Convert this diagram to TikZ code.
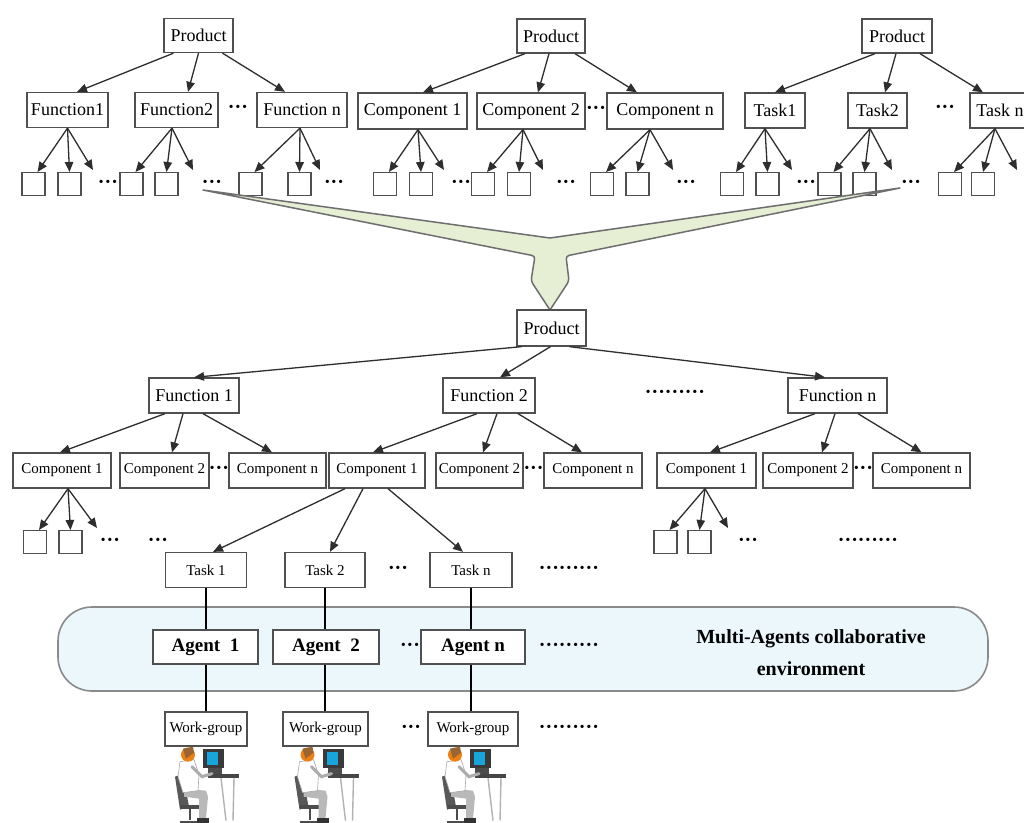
\documentclass[tikz,border=0pt]{standalone}
\usepackage{fontspec}
\setmainfont{Liberation Serif}
\usetikzlibrary{arrows.meta,calc}

\definecolor{boxgray}{HTML}{505050}
\definecolor{arrgray}{HTML}{2E2E2E}
\definecolor{funfill}{HTML}{E6EED4}
\definecolor{funline}{HTML}{6E6E6E}
\definecolor{bandfill}{HTML}{ECF7FB}
\definecolor{bandline}{HTML}{8A8A8A}

\newcommand{\fsz}[1]{\fontsize{#1}{#1}\selectfont}

% three arrows from a parent box to two leaf boxes and one open end
% #1 parent, #2 leaf top y, #3/#4 leaf centres x, #5 open arrow end x, #6 origin shift
\newcommand{\leaftree}[6]{%
  \coordinate (#1-o) at ([xshift=#6pt]#1.south);
  \node[leaf, anchor=north] (#1-l1) at (#3,#2) {};
  \node[leaf, anchor=north] (#1-l2) at (#4,#2) {};
  \coordinate (#1-l3) at (#5,#2-2);
  \draw[arr] (#1-o) -- ([xshift=4pt]#1-l1.north);
  \draw[arr] (#1-o) -- (#1-l2.north);
  \draw[arr] (#1-o) -- (#1-l3);
}

% seated worker at a computer, hanging below a work-group box
\newcommand{\worker}[1]{%
  \begin{scope}[shift={(#1.south)}]
    % desk legs and top
    \draw[gray!60, line width=1.4pt] (15,31) -- (20,74) (28,31) -- (27,74);
    \fill[gray!55!black] (2,27) rectangle (33,31);
    % monitor
    \fill[gray!45!black] (-3,2) rectangle (18,21);
    \fill[cyan!80!teal] (1,5) rectangle (12,18);
    \fill[gray!60!black] (2,21) rectangle (16,27);
    % chair
    \fill[gray!70!black] (-31,30) -- (-23,27) -- (-17,60) -- (-26,63) -- cycle;
    \fill[gray!60!black] (-26,58) rectangle (-6,62);
    \draw[gray!60!black, line width=2pt] (-16,62) -- (-16,73) (-26,75) -- (-6,75);
    % legs
    \fill[gray!55] (-22,42) -- (0,44) -- (2,50) -- (0,72) -- (-7,72) -- (-7,52) -- (-22,50) -- cycle;
    \fill[black!80] (-9,71) rectangle (3,76);
    % torso
    \filldraw[draw=gray!70, fill=white, line width=0.6pt]
      (-26,15) -- (-12,13) -- (-7,28) -- (-8,44) -- (-23,46) -- (-28,30) -- cycle;
    % arm to the keyboard
    \draw[gray!65, line width=3pt, line cap=round] (-14,20) -- (-4,30) -- (6,27);
    % head and hair
    \fill[orange!70!brown] (-18,8) circle (7pt);
    \fill[brown!80!black] (-23,2) -- (-13,0) -- (-12,6) -- (-20,12) -- cycle;
  \end{scope}
}

\tikzset{
  bx/.style={draw=boxgray, line width=1.3pt, fill=white, inner sep=0pt,
             minimum height=35pt, text=black},
  leaf/.style={draw=boxgray, line width=1.2pt, fill=white, minimum size=23pt, inner sep=0pt},
  arr/.style={draw=arrgray, line width=1.3pt, -{Triangle[length=10pt,width=8.5pt]}},
  link/.style={draw=black, line width=1.5pt},
  dots/.style={inner sep=0pt, font=\fsz{20}\bfseries},
  ftop/.style={font=\fsz{18}},
  fmid/.style={font=\fsz{18}},
  fcomp/.style={font=\fsz{15}},
  fsmall/.style={font=\fsz{15}},
}

\begin{document}
\begin{tikzpicture}[x=1pt, y=-1pt]
\clip (0,0) rectangle (1024,822);
\fill[white] (0,0) rectangle (1024,822);

% ---------- three source hierarchies ----------
\node[bx, ftop, minimum width=69pt, minimum height=34pt] (P1) at (198.5,35.5) {Product};
\node[bx, ftop, minimum width=81pt] (F1) at (67.5,110) {Function1};
\node[bx, ftop, minimum width=83pt] (F2) at (176.5,110) {Function2};
\node[bx, ftop, minimum width=90pt] (Fn) at (302,110) {Function n};
\node[dots] (dF) at (238,109) {···};

\node[bx, ftop, minimum width=68pt, minimum height=34pt] (P2) at (551,36) {Product};
\node[bx, ftop, minimum width=109pt, minimum height=36pt] (Cp1) at (412.5,111) {Component 1};
\node[bx, ftop, minimum width=108pt, minimum height=36pt] (Cp2) at (531,111) {Component 2};
\node[bx, ftop, minimum width=116pt, minimum height=36pt] (Cpn) at (665,111) {Component n};
\node[dots] (dC) at (596,110) {···};

\node[bx, ftop, minimum width=70pt, minimum height=34pt] (P3) at (897,36) {Product};
\node[bx, ftop, minimum width=60pt] (T1) at (775,110.5) {Task1};
\node[bx, ftop, minimum width=59pt] (T2) at (877.5,110.5) {Task2};
\node[bx, ftop, minimum width=60pt] (Tn) at (1000,110.5) {Task n};
\node[dots] (dT) at (945,109) {···};

\draw[arr] ([xshift=-25pt]P1.south) -- ([xshift=9.5pt]F1.north);
\draw[arr] ([xshift=0pt]P1.south) -- ([xshift=11.5pt]F2.north);
\draw[arr] ([xshift=24pt]P1.south) -- ([xshift=-17pt]Fn.north);
\draw[arr] ([xshift=-26pt]P2.south) -- ([xshift=10.5pt]Cp1.north);
\draw[arr] ([xshift=-2pt]P2.south) -- ([xshift=7pt]Cp2.north);
\draw[arr] ([xshift=24pt]P2.south) -- ([xshift=-28pt]Cpn.north);
\draw[arr] ([xshift=-22pt]P3.south) -- (T1.north);
\draw[arr] ([xshift=-1pt]P3.south) -- ([xshift=7.5pt]T2.north);
\draw[arr] ([xshift=23pt]P3.south) -- ([xshift=-17pt]Tn.north);

\leaftree{F1}{172}{33.5}{69.5}{93}{0}
\leaftree{F2}{172}{131.5}{166.5}{193}{-4.5}
\leaftree{Fn}{172}{250.5}{299.5}{320}{-2}
\leaftree{Cp1}{172}{385}{421}{444}{5.5}
\leaftree{Cp2}{172}{483}{519}{543}{-8}
\leaftree{Cpn}{172}{602}{637.5}{673}{-15}
\leaftree{T1}{172}{732}{767.5}{792}{-10}
\leaftree{T2}{172}{829.5}{864.5}{892}{-7.5}
\leaftree{Tn}{172}{950}{983}{1017}{-5}

\node[dots] (d1) at (108,184) {···};
\node[dots] (d2) at (212,184) {···};
\node[dots] (d3) at (334,184) {···};
\node[dots] (d4) at (461,184) {···};
\node[dots] (d5) at (566,184) {···};
\node[dots] (d6) at (686,184) {···};
\node[dots] (d7) at (806,184) {···};
\node[dots] (d8) at (911,184) {···};

% ---------- merging funnel ----------
\filldraw[fill=funfill, draw=funline, line width=1.5pt, line join=round]
  (203,190) -- (550,238) -- (900,188)
  [rounded corners=3pt] -- (566,256) -- (569,281)
  [sharp corners] -- (550,310)
  [rounded corners=3pt] -- (531,281) -- (535,256)
  [sharp corners] -- cycle;

% ---------- integrated hierarchy ----------
\node[bx, font=\fsz{18}, minimum width=69pt, minimum height=36pt] (P4) at (551.5,328) {Product};
\node[bx, fmid, minimum width=90pt] (G1) at (194,395.5) {Function 1};
\node[bx, fmid, minimum width=92pt] (G2) at (489,395.5) {Function 2};
\node[bx, fmid, minimum width=99pt] (Gn) at (837.5,395.5) {Function n};
\node[dots] (dG) at (675,394) {·········};

\draw[arr] ([xshift=-30pt]P4.south) -- (G1.north);
\draw[arr] ([xshift=-1pt]P4.south) -- ([xshift=11pt]G2.north);
\draw[arr] ([xshift=18pt]P4.south) -- ([xshift=-12.5pt]Gn.north);

\node[bx, fcomp, minimum width=98pt] (A1) at (62,470.5) {Component 1};
\node[bx, fcomp, minimum width=89pt] (A2) at (164.5,470.5) {Component 2};
\node[bx, fcomp, minimum width=97pt] (An) at (277.5,470.5) {Component n};
\node[bx, fcomp, minimum width=96pt] (B1) at (377,470.5) {Component 1};
\node[bx, fcomp, minimum width=87pt] (B2) at (479.5,470.5) {Component 2};
\node[bx, fcomp, minimum width=98pt] (Bn) at (593,470.5) {Component n};
\node[bx, fcomp, minimum width=99pt] (D1) at (706.5,470.5) {Component 1};
\node[bx, fcomp, minimum width=90pt] (D2) at (808,470.5) {Component 2};
\node[bx, fcomp, minimum width=97pt] (Dn) at (921.5,470.5) {Component n};
\node[dots] (dA) at (219,470) {···};
\node[dots] (dB) at (533.5,470) {···};
\node[dots] (dD) at (863,470) {···};

\draw[arr] ([xshift=-29pt]G1.south) -- ([xshift=-2pt]A1.north);
\draw[arr] ([xshift=-11pt]G1.south) -- ([xshift=7.5pt]A2.north);
\draw[arr] ([xshift=9pt]G1.south) -- ([xshift=-5.5pt]An.north);
\draw[arr] ([xshift=-12pt]G2.south) -- ([xshift=-4pt]B1.north);
\draw[arr] ([xshift=8pt]G2.south) -- ([xshift=3.5pt]B2.north);
\draw[arr] ([xshift=29pt]G2.south) -- ([xshift=-11pt]Bn.north);
\draw[arr] ([xshift=-22.5pt]Gn.south) -- ([xshift=3.5pt]D1.north);
\draw[arr] ([xshift=-2.5pt]Gn.south) -- ([xshift=14pt]D2.north);
\draw[arr] ([xshift=20.5pt]Gn.south) -- (Dn.north);

\leaftree{A1}{530}{35}{70.5}{97}{6}
\leaftree{D1}{530}{665.5}{699.5}{728}{-1.5}
\node[dots] (e1) at (110,542) {···};
\node[dots] (e2) at (158,542) {···};
\node[dots] (e3) at (748,542) {···};
\node[dots] (e4) at (868,542) {·········};

% ---------- tasks, agents and work-groups ----------
\node[draw=bandline, fill=bandfill, line width=1.6pt, rounded corners=34pt,
      minimum width=930pt, minimum height=84pt, inner sep=0pt] (env) at (523,649) {};
\node[font=\fsz{20}\bfseries, align=center, inner sep=0pt] (envtxt) at (811,653)
  {Multi-Agents collaborative\\[12pt]environment};

\node[bx, fsmall, minimum width=81pt] (K1) at (206,570) {Task 1};
\node[bx, fsmall, minimum width=80pt] (K2) at (325,570) {Task 2};
\node[bx, fsmall, minimum width=82pt] (Kn) at (471,570) {Task n};
\node[dots] (dK) at (398,570) {···};
\node[dots] (dK2) at (569,570) {·········};

\draw[arr] ([xshift=-32pt]B1.south) -- ([xshift=7pt]K1.north);
\draw[arr] ([xshift=-14pt]B1.south) -- ([xshift=5pt]K2.north);
\draw[arr] ([xshift=11pt]B1.south) -- ([xshift=-8pt]Kn.north);

\node[bx, font=\fsz{19}\bfseries, minimum width=105pt, minimum height=34pt] (M1) at (205.5,647) {Agent\ \ 1};
\node[bx, font=\fsz{19}\bfseries, minimum width=106pt, minimum height=34pt] (M2) at (326,647) {Agent\ \ 2};
\node[bx, font=\fsz{19}\bfseries, minimum width=104pt, minimum height=34pt] (Mn) at (473,647) {Agent n};
\node[dots] (dM) at (410,647) {···};
\node[dots] (dM2) at (569,647) {·········};

\node[bx, font=\fsz{15}, minimum width=82pt, minimum height=34pt] (W1) at (206,729) {Work-group};
\node[bx, font=\fsz{15}, minimum width=85pt, minimum height=34pt] (W2) at (325.5,729) {Work-group};
\node[bx, font=\fsz{15}, minimum width=90pt, minimum height=34pt] (Wn) at (473,729) {Work-group};
\node[dots] (dW) at (411,729) {···};
\node[dots] (dW2) at (569,729) {·········};

% vertical task / agent / work-group links
\draw[link] (K1.south) -- (K1.south |- M1.north) (K1.south |- M1.south) -- (K1.south |- W1.north);
\draw[link] (K2.south) -- (K2.south |- M2.north) (K2.south |- M2.south) -- (K2.south |- W2.north);
\draw[link] (Kn.south) -- (Kn.south |- Mn.north) (Kn.south |- Mn.south) -- (Kn.south |- Wn.north);

\worker{W1}
\worker{W2}
\worker{Wn}
\end{tikzpicture}
\end{document}
